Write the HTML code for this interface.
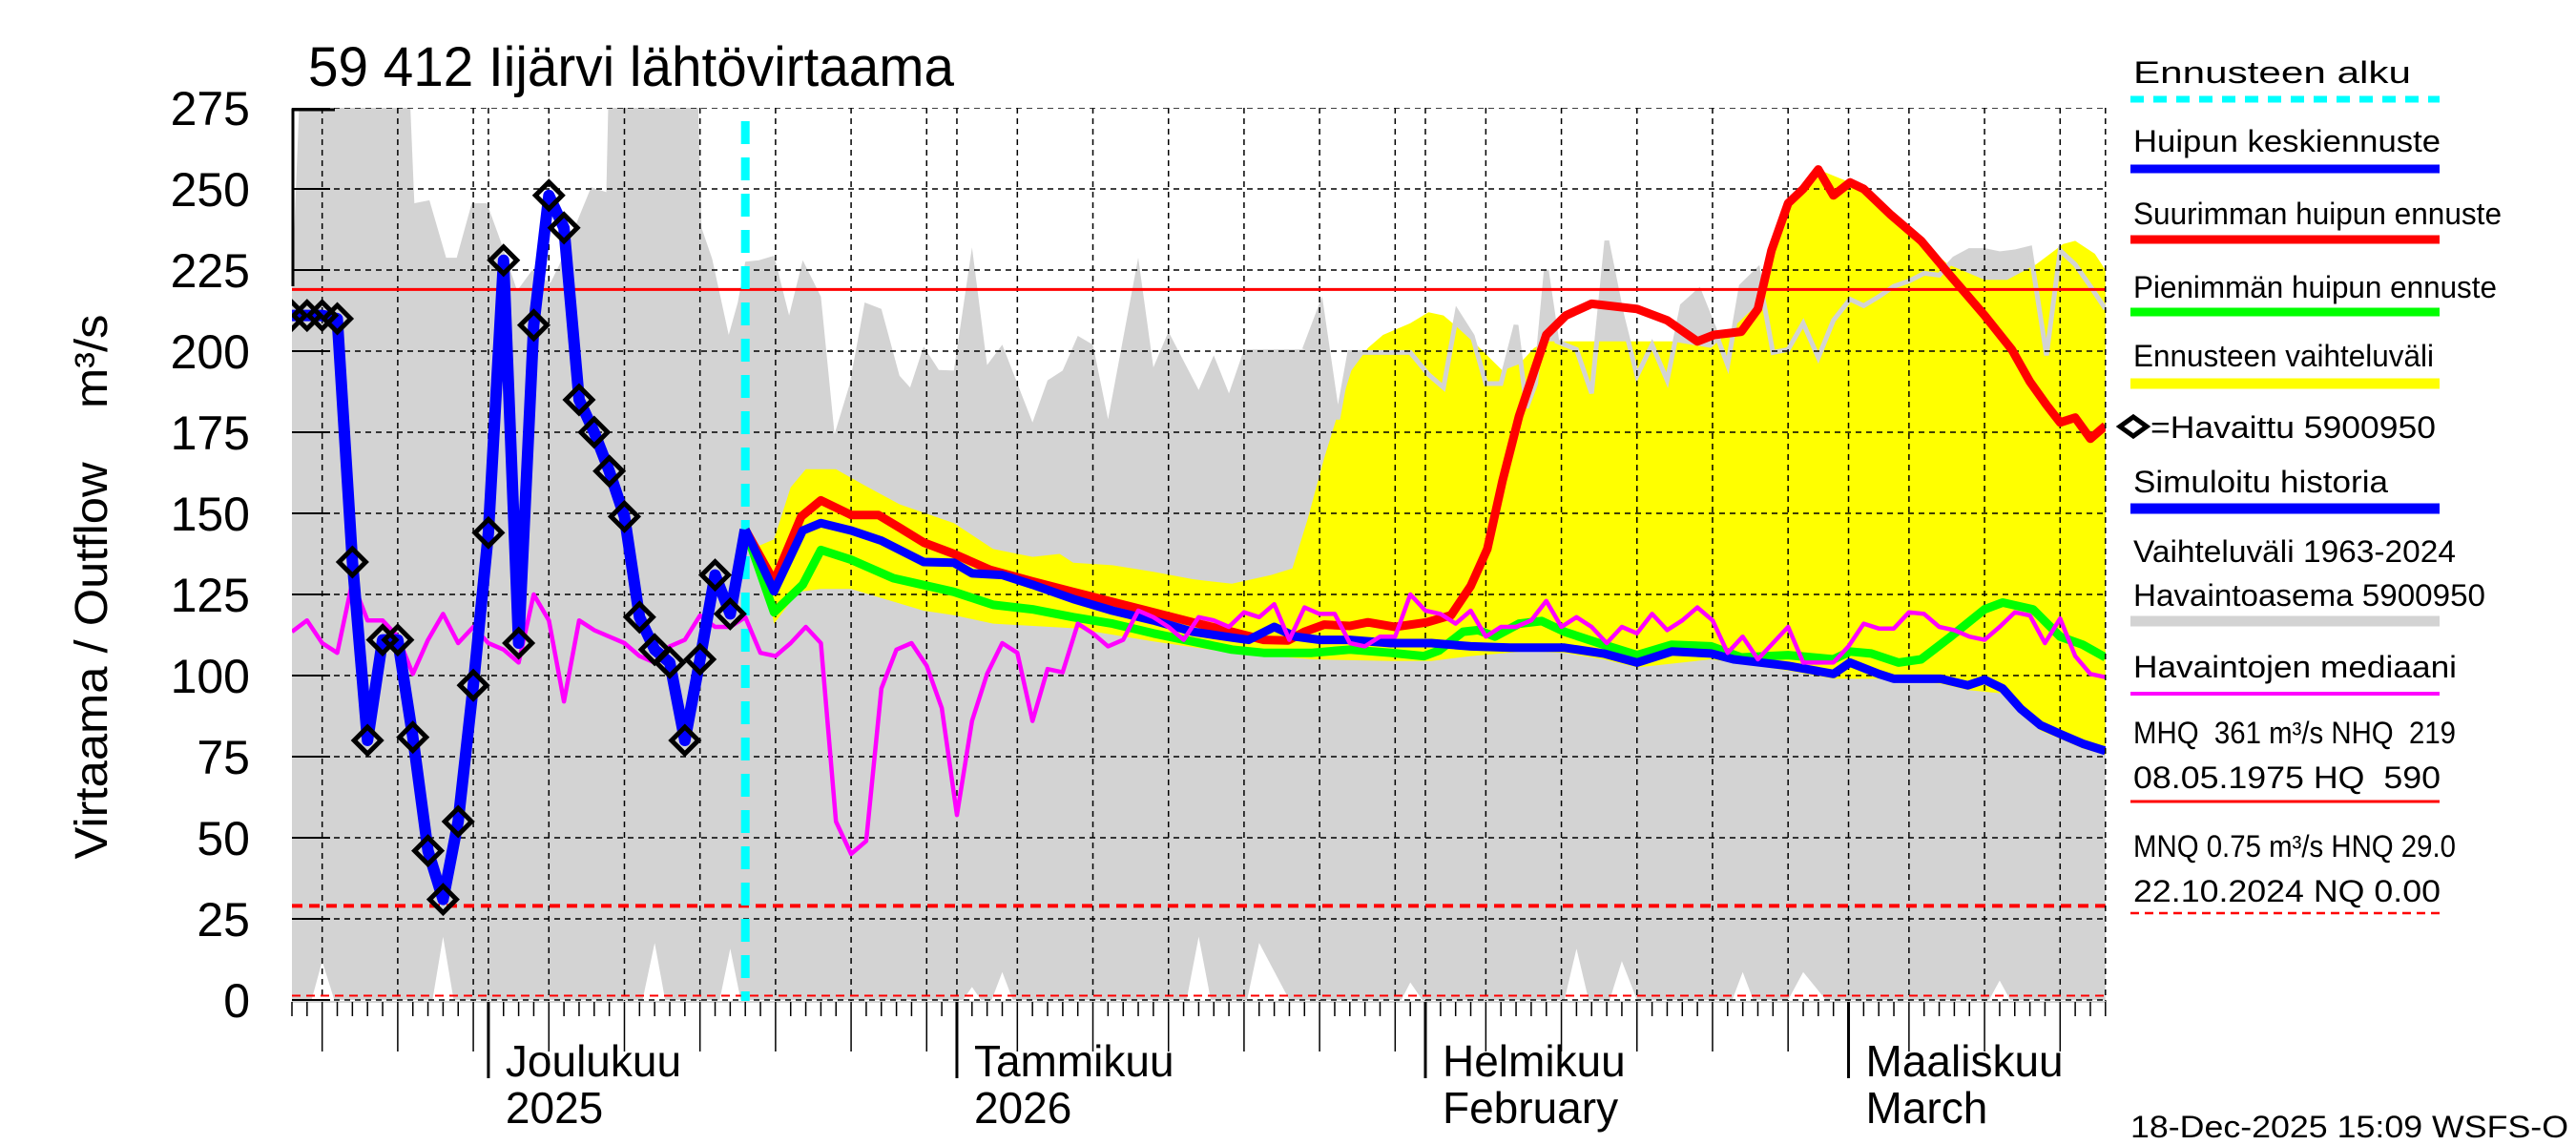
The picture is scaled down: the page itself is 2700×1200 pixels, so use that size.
<!DOCTYPE html>
<html><head><meta charset="utf-8"><style>
html,body{margin:0;padding:0;background:#fff;}
svg{display:block;font-family:"Liberation Sans",sans-serif;}
text{white-space:pre;}
</style></head><body>
<svg id="chart" xmlns="http://www.w3.org/2000/svg" width="2700" height="1200" viewBox="0 0 2700 1200">
<rect x="0" y="0" width="2700" height="1200" fill="#fff"/>
<defs><clipPath id="plotclip"><rect x="306" y="113" width="1901" height="937"/></clipPath></defs>
<text x="323" y="90" font-size="58" textLength="677" lengthAdjust="spacingAndGlyphs">59 412 Iijärvi lähtövirtaama</text>
<text transform="translate(112,615) rotate(-90)" text-anchor="middle" font-size="48" textLength="571" lengthAdjust="spacingAndGlyphs">Virtaama / Outflow    m³/s</text>
<g id="plot" clip-path="url(#plotclip)"></g>
<g id="axes"></g>
<g id="legend"></g>
</svg>
<script>
const obsDays=[0,1,2,3,4,5,6,7,8,9,10,11,12,13,14,15,16,17,18,19,20,21,22,23,24,25,26,27,28,29];
const obsVals=[211,211,211,210,135,80,111,111,81,46,31,55,97,144,228,110,208,248,238,185,175,163,149,118,108,104,80,105,131,119];
const simDays=[0,1,2,3,4,5,6,7,8,9,10,11,12,13,14,15,16,17,18,19,20,21,22,23,24,25,26,27,28,29,30];
const simVals=[211,211,211,210,135,80,111,111,81,46,31,55,97,144,228,110,208,248,238,185,175,163,149,118,108,104,80,105,131,119,145];
const meanDays=[30,31.9,33.8,35,37,39,41.8,43.8,45,47,49,51.7,54.3,57,59.6,62.2,63.3,65,66.4,68,70,72.7,75.4,78,80.6,84.2,86.8,89,91.3,93.9,95.4,99,102,103.1,105,106,109.1,110.9,112,113.2,114.4,115.7,117,118.5,120];
const meanVals=[145,126,144.7,147,144.7,141.6,135,134.8,131.5,131,128,123.6,120,117,113.5,111.7,111,115,112,111,111,110,110,109,108.6,108.6,106.8,104,107.4,106.8,105,103,100.5,104,100.5,99,99,97,98.7,96,89.7,84.7,82,79,76.8];
const maxDays=[30,31.9,33.7,35,37,38.8,40.2,41.8,43.8,46.2,49,51.7,54.3,57,59.6,62.2,64.3,65.9,67,68.3,70,71.2,73,75.1,76.7,78,79.1,80.1,81.2,83,84.3,86,89,91,93,94.1,95.9,97,97.9,99,100,101,102,103.1,104,105.8,107.8,109.6,112,113.8,115,116.1,117,118,119,120];
const maxVals=[145,129,149,154,149.5,149.5,145.6,141,137.5,132.6,129,125.8,122.7,119.5,116.4,113.5,111,110.8,113.5,115.7,115.3,116.4,115,116.4,118.6,127.6,139,160,180,205,211,214.6,213,209.5,203,205,206,213,231,245.6,250,256,248,252,250,242,234,224,211,200.5,190.6,183.4,178,179.5,173,177];
const minDays=[30,31.9,33.8,35,37,39.8,43.8,46.4,49,51.7,54.3,57,59.6,62.2,64.3,67.5,70,72.7,74.9,75.9,77.5,78.5,79.6,81.2,82.7,84.2,86.8,89,91.3,93.9,95.9,99,102,103.1,104.5,106.3,107.8,109.6,112,113.2,115.2,117,118.5,120];
const minVals=[145,119.5,128,138.7,135.7,130,125.8,121.8,120.4,118,116,113,110.5,108,107,107,108,107,106,107.7,113.5,114,112,116,116.8,113.5,109.5,106.3,109.5,109,105.6,106.3,105,107.4,106.8,104,105,111.4,120.4,122.5,120.4,112,109.5,105.6];
const bandHiDays=[30,30.9,31.9,33,34,36,37.9,40.2,43.8,46.4,49,50.8,51.7,54.3,57,59.6,62.2,64.8,66.2,67.2,68.3,69.1,70.1,71.2,72.2,74,75.2,76.2,77.2,78.5,80.1,81.2,82.2,83,86.8,91.3,93.9,96.9,97.9,99,101,103.1,105.8,109.6,112,113.5,115.4,117.2,118,119.3,120];
const bandHiVals=[145,140,142,158,163.6,163.6,158.6,152.8,147,139,136.6,137.5,134.8,134,132,129.7,128.3,131,133,148,167,179,194,201,205,208.6,212,211,207,201.4,194,196,201,203,203,203,201,214,231,245.6,256,252,242,226.7,222,222,226.7,233,234,230,225];
const bandLoDays=[30,30.9,31.9,33.5,35,37,41.8,43.8,46.4,51.7,57,62.2,67.5,72.7,75.4,78,81.7,84.2,86.8,89,93.9,99,102,105,109.1,110.9,113.2,114.4,115.7,117,118.5,120];
const bandLoVals=[145,140,116,125.8,126.7,126.7,120,118.6,116,114.6,110.5,107,105,104.5,104.5,106,107.5,107,105,102.5,105,101.5,99,99,97.5,95.5,94.5,88,83,80.5,77.5,75.5];
const histMaxDays=[0,0.6,7.7,8.1,9.1,10.2,10.9,11.9,12.9,13.8,14.9,15.9,17.1,17.7,19.8,20.8,21,26.8,27.1,27.8,28.9,29.5,30,30.9,31.9,32.9,33.8,35,35.9,36.9,37.9,39,40.2,40.9,41.8,42.8,43.8,45,46,47,49,50,51,52,53,54,56,57,58,60,61,62,63,67,68.1,69.2,70,74,75.2,76.2,77.1,78.1,79,80,81,81.7,82.3,83,83.7,85,86,87,88,89,90,91,92,93.1,94.1,95,95.9,97,98,99,100,101,102,103.1,104,105,106,107,108,109,110,111,112,113,114,115,116.1,117,118,119,120];
const histMaxVals=[219,290,290,245.6,246.5,228.8,228.8,245.6,245.6,234,218.6,225,221,226.7,250.5,249,290,290,238,228.5,205,215,227.6,228,229.4,211,228,216.8,174.4,189.7,215,213,192.4,188.8,201.4,194.2,194,232,195.7,202,178,191,194,204.7,202,179,228.8,195,206,188,198.7,187,200.5,200.5,214,179,199.6,199.6,192.8,188.8,212,204.7,190,190,208,182.5,190,225,203,200.5,187,234,211,192.4,202,191,214,218.6,207,195.7,220,225,199.6,200.5,208.6,198,209.5,216,214,216.8,220,221.6,224,223.4,228.5,231,231,230,230.6,231.7,198.7,231,226.7,220,213];
const histMinDays=[0,1.3,2,2.8,9.3,10,10.7,23.2,24,24.7,28.3,29,29.7,44.4,45,45.6,46.3,47,47.7,59.2,60,60.8,63.2,64,66,73.4,74,74.8,84.2,85,85.8,87.2,88,89,95.3,96,96.7,99,100,101.5,112.3,113,113.7,120];
const histMinVals=[0,0,12,0,0,19.5,0,0,17.6,0,0,15.8,0,0,4,0,0,8.6,0,0,19.5,0,0,17.6,0,0,5.4,0,0,15.8,0,0,12,0,0,8.6,0,0,8.6,0,0,6,0,0];
const medVals=[113.5,117,110,107,129,117,117,112,100.5,111,119,110,115,110,108,104,125,117,92,117,114,112,110,106,104,109,111,118.5,115,115,118,107,106,110,115,110,55,45,49,96,108,110,103,90,57,86,100.5,110,107,86,102,101,116,113,109,111,120,118,115,111,118,117,115,119.5,118,122,111,121,119,119,110,109,112,112,125,120,119,116,120,112,115,115,117,123,115,118,115,110,115,113,119,114,117,121,117,107,112,105,110,115,104,104,104,109,116,114.5,114.5,119.5,119,115,114,112,111,115,119.5,118.5,110,117.6,106,100.5,99.5];
const medDays=medVals.map((v,i)=>i);
const yTicks=[0,25,50,75,100,125,150,175,200,225,250,275];
const monthDays=[13,44,75,103];
const monthLabels=[["Joulukuu","2025"],["Tammikuu","2026"],["Helmikuu","February"],["Maaliskuu","March"]];
const NHQ=219, HNQ=29, NQ=0.75, forecastDay=30, lastDay=120;

const NS="http://www.w3.org/2000/svg";
const X0=306, DX=15.84, Y0=1048, DY=3.4;
function xs(d){return X0+d*DX;}
function ys(v){return Y0-v*DY;}
function mk(tag,attrs,parent){const e=document.createElementNS(NS,tag);for(const k in attrs)e.setAttribute(k,attrs[k]);parent.appendChild(e);return e;}
function pts(ds,vs){return ds.map((d,i)=>xs(d).toFixed(1)+","+ys(vs[i]).toFixed(1)).join(" ");}
const plot=document.getElementById('plot'), axes=document.getElementById('axes'), leg=document.getElementById('legend');
const R=xs(lastDay);

let gpts=pts(histMaxDays,histMaxVals)+" "+pts(histMinDays.slice().reverse(),histMinVals.slice().reverse());
let g=mk('polygon',{points:gpts,fill:'#d3d3d3'},plot);


let ypts=pts(bandHiDays,bandHiVals)+" "+pts(bandLoDays.slice().reverse(),bandLoVals.slice().reverse());
let yb=mk('polygon',{points:ypts,fill:'#ffff00'},plot);


let hl=mk('polyline',{points:pts(histMaxDays.filter(d=>d>=66),histMaxVals.filter((v,i)=>histMaxDays[i]>=66)),fill:'none',stroke:'#d3d3d3','stroke-width':5},plot);


for(const v of yTicks){
  let l=mk('line',{x1:X0,x2:R,y1:ys(v),y2:ys(v),stroke:'#000','stroke-width':1.5,'stroke-dasharray':'6,5'},plot);
  
  
  let t=mk('line',{x1:X0,x2:X0+40,y1:ys(v),y2:ys(v),stroke:'#000','stroke-width':2},plot);
  
  
}
const monthStarts=[-17,13,44,75,103,134];
for(let m=0;m<monthStarts.length-1;m++){
  for(const dom of [1,5,10,15,20,25,30]){
    const d=monthStarts[m]+dom-1;
    if(d<=0||d>=lastDay)continue;
    if(d>=monthStarts[m+1])continue;
    let l=mk('line',{x1:xs(d),x2:xs(d),y1:113,y2:1050,stroke:'#000','stroke-width':1.5,'stroke-dasharray':'6,5'},plot);
    
    
  }
}
let r1=mk('line',{x1:X0,x2:R,y1:ys(NHQ),y2:ys(NHQ),stroke:'#ff0000','stroke-width':3},plot);


let r2=mk('line',{x1:X0,x2:R,y1:ys(HNQ),y2:ys(HNQ),stroke:'#ff0000','stroke-width':4,'stroke-dasharray':'11,7'},plot);


let r3=mk('line',{x1:X0,x2:R,y1:ys(NQ)-2,y2:ys(NQ)-2,stroke:'#ff0000','stroke-width':2,'stroke-dasharray':'9,6'},plot);


let cy=mk('line',{x1:xs(forecastDay),x2:xs(forecastDay),y1:127,y2:1050,stroke:'#00ffff','stroke-width':9,'stroke-dasharray':'24,14'},plot);


let gl=mk('polyline',{points:pts(minDays,minVals),fill:'none',stroke:'#00ff00','stroke-width':9,'stroke-linejoin':'round'},plot);


let rl=mk('polyline',{points:pts(maxDays,maxVals),fill:'none',stroke:'#ff0000','stroke-width':9,'stroke-linejoin':'round'},plot);


let bl=mk('polyline',{points:pts(meanDays,meanVals),fill:'none',stroke:'#0000ff','stroke-width':9,'stroke-linejoin':'round'},plot);


let md=mk('polyline',{points:pts(medDays,medVals),fill:'none',stroke:'#ff00ff','stroke-width':4.5,'stroke-linejoin':'round'},plot);


let sl=mk('polyline',{points:pts(simDays,simVals),fill:'none',stroke:'#0000ff','stroke-width':12,'stroke-linejoin':'round'},plot);


obsDays.forEach((d,i)=>{
  const cx=xs(d), cyv=ys(obsVals[i]);
  let p=mk('polygon',{points:`${cx-14},${cyv} ${cx},${cyv-14} ${cx+14},${cyv} ${cx},${cyv+14}`,fill:'none',stroke:'#000','stroke-width':5},plot);
  
  
});
let fr=mk('line',{x1:R,x2:R,y1:113,y2:1050,stroke:'#000','stroke-width':1.5,'stroke-dasharray':'6,5'},axes);


let la=mk('polyline',{points:`${X0+1},300 ${X0+1},115 ${X0+45},115`,fill:'none',stroke:'#000','stroke-width':3},axes);


let ba=mk('line',{x1:X0,x2:R,y1:1050,y2:1050,stroke:'#d3d3d3','stroke-width':2},axes);


for(const v of yTicks){
  let t=mk('text',{x:262,y:ys(v)+18,'font-size':50,'text-anchor':'end'},axes);
  t.textContent=String(v);
  
  
}
for(let d=0;d<=lastDay;d++){
  const isMonth=monthDays.includes(d);
  const m=monthStarts.findIndex((s,k)=>d>=s&&d<monthStarts[k+1]);
  const dom=d-monthStarts[m]+1;
  const isGrid=[5,10,15,20,25,30].includes(dom);
  const len=isMonth?80:(isGrid?52:15);
  let t=mk('line',{x1:xs(d),x2:xs(d),y1:1050,y2:1050+len,stroke:'#000','stroke-width':isMonth?3:1.5},axes);
  
  
}
monthDays.forEach((d,i)=>{
  let t1=mk('text',{x:xs(d)+18,y:1128,'font-size':46},axes);
  t1.textContent=monthLabels[i][0];
  
  
  let t2=mk('text',{x:xs(d)+18,y:1177,'font-size':46},axes);
  t2.textContent=monthLabels[i][1];
  
  
});
const legItems=[
 ["Ennusteen alku",87,291,104,'#00ffff',7,'14,10','legend-forecast-start'],
 ["Huipun keskiennuste",159,322,177,'#0000ff',9,null,'legend-mean-forecast'],
 ["Suurimman huipun ennuste",235,386,251,'#ff0000',9,null,'legend-max-forecast'],
 ["Pienimmän huipun ennuste",312,381,327,'#00ff00',9,null,'legend-min-forecast'],
 ["Ennusteen vaihteluväli",384,315,402,'#ffff00',11,null,'legend-forecast-range'],
 ["Simuloitu historia",516,267,533,'#0000ff',11,null,'legend-simulated'],
 ["Havaintoasema 5900950",635,369,651,'#d3d3d3',11,null,'legend-historical-range'],
 ["Havaintojen mediaani",710,339,727,'#ff00ff',4,null,'legend-median'],
 ["08.05.1975 HQ  590",826,322,840,'#ff0000',3,null,'legend-nhq'],
 ["22.10.2024 NQ 0.00",945,322,957,'#ff0000',2.5,'9,6','legend-hnq']
];
legItems.forEach(it=>{
  let t=mk('text',{x:2236,y:it[1],'font-size':32,textLength:it[2],lengthAdjust:'spacingAndGlyphs'},leg);
  t.textContent=it[0];
  
  
  const a={x1:2233,x2:2557,y1:it[3],y2:it[3],stroke:it[4],'stroke-width':it[5]};
  if(it[6])a['stroke-dasharray']=it[6];
  let l=mk('line',a,leg);
  
  
});
const extra=[["Vaihteluväli 1963-2024",589,338],["MHQ  361 m³/s NHQ  219",779,338],["MNQ 0.75 m³/s HNQ 29.0",898,338],["=Havaittu 5900950",459,299,2254]];
extra.forEach(it=>{
  let t=mk('text',{x:it[3]||2236,y:it[1],'font-size':32,textLength:it[2],lengthAdjust:'spacingAndGlyphs'},leg);
  t.textContent=it[0];
  
  
});
let ld=mk('polygon',{points:'2222,447 2236,437 2250,447 2236,457',fill:'none',stroke:'#000','stroke-width':5},leg);


let ts=mk('text',{x:2233,y:1192,'font-size':32,textLength:459,lengthAdjust:'spacingAndGlyphs'},leg);
ts.textContent="18-Dec-2025 15:09 WSFS-O";


</script>
</body></html>
